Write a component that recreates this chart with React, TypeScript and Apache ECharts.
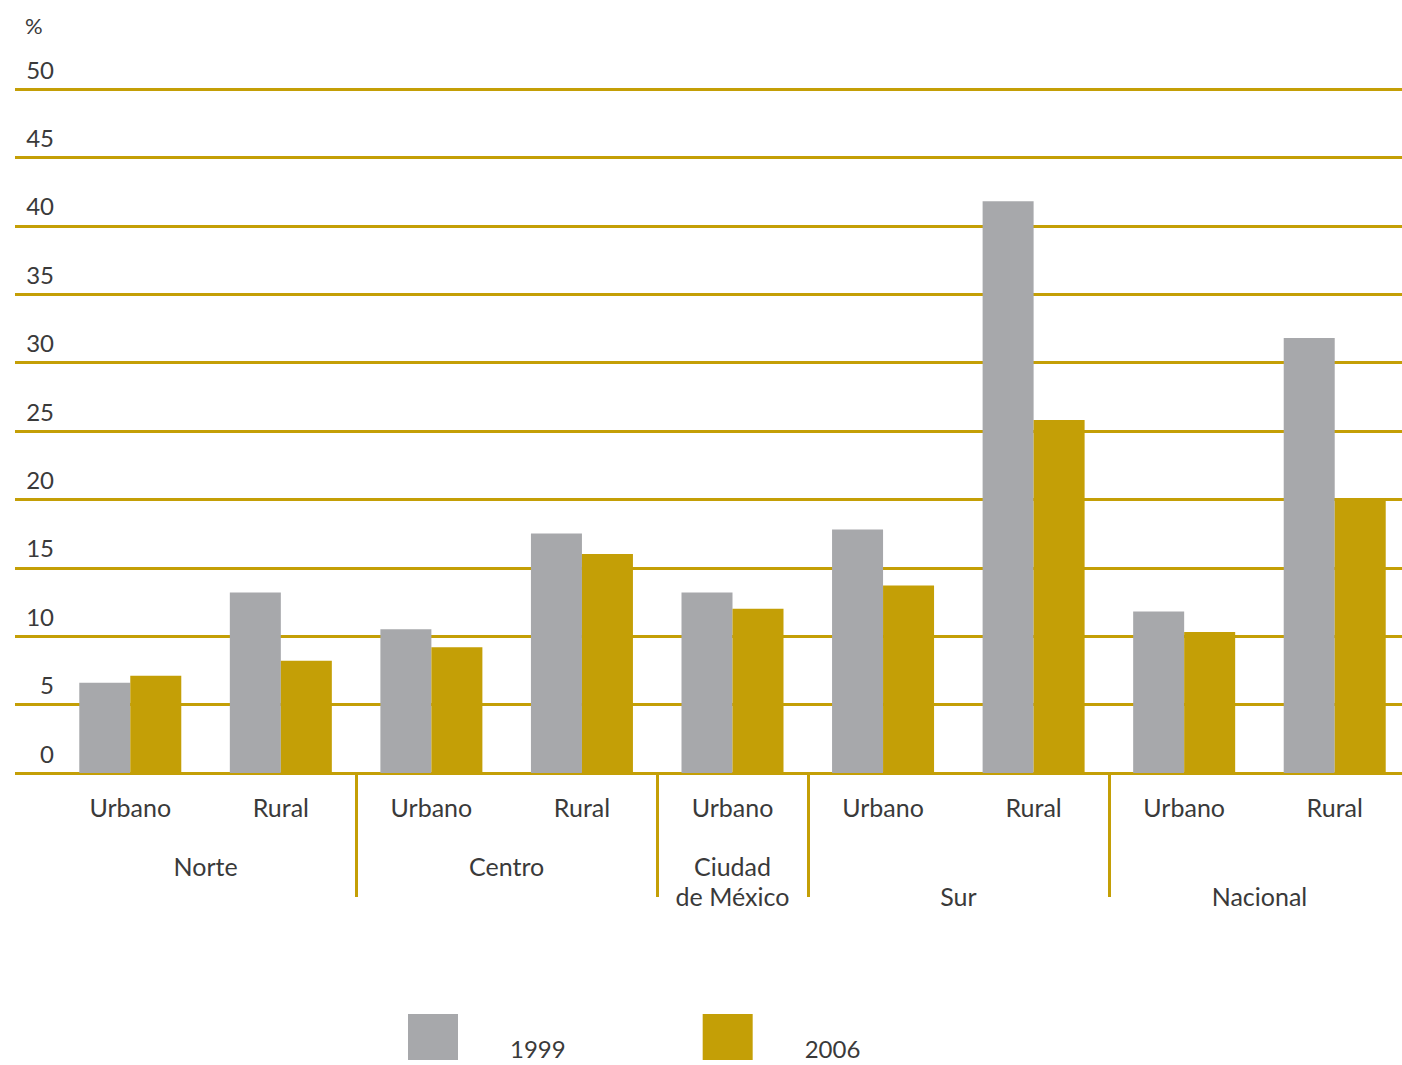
import React, { useEffect, useRef } from "react";
import * as echarts from "echarts";

const categories = ["Urbano", "Rural", "Urbano", "Rural", "Urbano", "Urbano", "Rural", "Urbano", "Rural"];
const values1999 = [6.6, 13.2, 10.5, 17.5, 13.2, 17.8, 41.8, 11.8, 31.8];
const values2006 = [7.1, 8.2, 9.2, 16.0, 12.0, 13.7, 25.8, 10.3, 20.1];
// half-band positions (0, 0.5, 1, ... 9) of the category axis for region labels
const regionSlots = ["", "", "Norte", "", "", "", "Centro", "", "", "Ciudad\nde México", "", "", "\nSur", "", "", "", "\nNacional", "", ""];
const separatorSlots = [4, 8, 10, 14];
const seriesNames = ["1999", "2006"];

const GOLD = "#c49f06";
const GRAY = "#a7a8ab";
const TEXT = "#3a3a3a";
const FONT = "Lato";

export default function App() {
  const ref = useRef<HTMLDivElement>(null);
  useEffect(() => {
    const chart = echarts.init(ref.current!, null, { renderer: "svg" });
    chart.setOption({
      animation: false,
      textStyle: { fontFamily: FONT },
      grid: [
        { left: 15, right: 0, top: 89, bottom: 292, outerBoundsMode: "none", containLabel: false },
        { left: 55, width: 1355, top: 89, bottom: 292, outerBoundsMode: "none", containLabel: false },
      ],
      xAxis: [
        {
          gridIndex: 0,
          type: "value",
          min: 0,
          max: 1,
          show: false,
        },
        {
          gridIndex: 1,
          type: "category",
          data: categories,
          axisLine: { show: false },
          axisTick: { show: false },
          axisLabel: {
            interval: 0,
            margin: 19,
            fontSize: 25,
            lineHeight: 30,
            color: TEXT,
            fontFamily: FONT,
          },
        },
        {
          gridIndex: 1,
          type: "category",
          position: "bottom",
          boundaryGap: false,
          data: regionSlots,
          axisLine: { show: false },
          axisTick: {
            show: true,
            length: 124,
            interval: (i: number) => separatorSlots.indexOf(i) >= 0,
            lineStyle: { color: GOLD, width: 3 },
          },
          axisLabel: {
            interval: 0,
            margin: 78,
            fontSize: 25,
            lineHeight: 30,
            color: TEXT,
            fontFamily: FONT,
            verticalAlign: "top",
          },
        },
      ],
      yAxis: [
        {
          gridIndex: 0,
          type: "value",
          min: 0,
          max: 50,
          interval: 5,
          name: "%",
          nameLocation: "end",
          nameGap: 53,
          nameTextStyle: { align: "left", padding: [0, 0, 0, 10], fontSize: 22, color: TEXT, fontFamily: FONT },
          axisLine: { show: false },
          axisTick: { show: false },
          splitLine: { show: true, lineStyle: { color: GOLD, width: 3 } },
          axisLabel: {
            inside: true,
            align: "right",
            margin: 39,
            verticalAlign: "bottom",
            padding: [0, 0, 8, 0],
            lineHeight: 24,
            fontSize: 24,
            color: TEXT,
            fontFamily: FONT,
          },
        },
        {
          gridIndex: 1,
          type: "value",
          min: 0,
          max: 50,
          interval: 5,
          show: false,
          splitLine: { show: false },
        },
      ],
      legend: {
        left: 408,
        top: 1014,
        padding: 0,
        itemWidth: 50,
        itemHeight: 46,
        itemGap: 137,
        icon: "rect",
        data: seriesNames,
        formatter: (name: string) => `{t|${name}}`,
        textStyle: {
          fontSize: 24,
          color: TEXT,
          fontFamily: FONT,
          padding: [0, 0, 0, 47],
          width: 57,
          rich: {
            t: {
              fontSize: 24,
              color: TEXT,
              fontFamily: FONT,
              lineHeight: 24,
              padding: [22, 0, 0, 0],
            },
          },
        },
      },
      series: [
        {
          name: seriesNames[0],
          type: "bar",
          xAxisIndex: 1,
          yAxisIndex: 1,
          data: values1999,
          barWidth: 51,
          barGap: "0%",
          itemStyle: { color: GRAY },
        },
        {
          name: seriesNames[1],
          type: "bar",
          xAxisIndex: 1,
          yAxisIndex: 1,
          data: values2006,
          barWidth: 51,
          barGap: "0%",
          itemStyle: { color: GOLD },
        },
      ],
    });
    return () => chart.dispose();
  }, []);
  return (
    <div
      ref={ref}
      style={{ position: "fixed", left: 0, top: 0, width: 1402, height: 1065, background: "#fff" }}
    />
  );
}
